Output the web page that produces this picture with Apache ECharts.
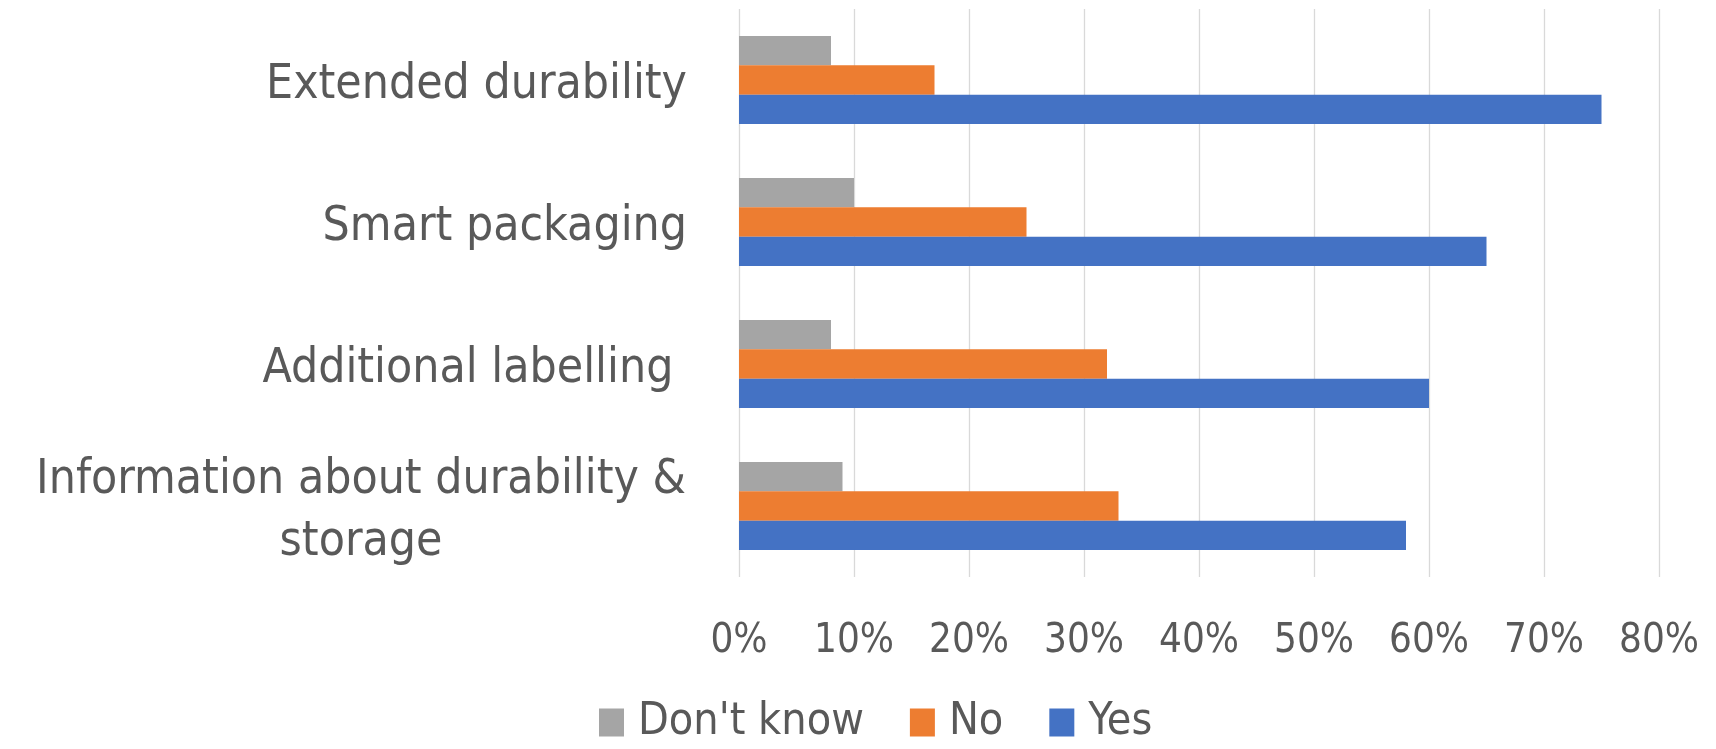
<!DOCTYPE html>
<html><head><meta charset="utf-8">
<script src="https://cdn.jsdelivr.net/npm/echarts@6/dist/echarts.min.js"></script>
<style>html,body{margin:0;padding:0;background:#fff}#c{width:1716px;height:749px}</style>
</head><body><div id="c"></div>
<script>
// ---- data ----
const categories = ['Extended durability', 'Smart packaging', 'Additional labelling ', 'Information about durability &\nstorage'];
const seriesNames = ["Don't know", 'No', 'Yes'];
const dontKnow = [8, 10, 8, 9];
const no = [17, 25, 32, 33];
const yes = [75, 65, 60, 58];
const xMin = 0, xMax = 80, xStep = 10;

// ---- styling ----
const FAM = '"Liberation Sans Narrow","DejaVu Sans Condensed","Liberation Sans",sans-serif';
const ctx = document.createElement('canvas').getContext('2d');
function fitSize(text, target) {
  ctx.font = '100px ' + FAM;
  return Math.round(target / ctx.measureText(text).width * 1000) / 10;
}
const fs = fitSize('Extended durability', 421);
const fsX = fitSize('80%', 80);
const fsL = fitSize("Don't know", 226);
ctx.font = fs + 'px ' + FAM;
const infoW = Math.ceil(ctx.measureText(categories[3].split('\n')[0]).width) + 2;
const TXT = '#595959';
const colors = ['#A5A5A5', '#ED7D31', '#4472C4'];

const chart = echarts.init(document.getElementById('c'), null, {renderer: 'canvas'});
const data = [dontKnow, no, yes];
chart.setOption({
  animation: false,
  textStyle: {fontFamily: FAM},
  grid: {left: 739, right: 57, top: 9, bottom: 172, containLabel: false},
  legend: {
    data: seriesNames, left: 599, top: 700, padding: 0, icon: 'rect', itemWidth: 25, itemHeight: 28, itemGap: 46,
    textStyle: {fontFamily: FAM, fontSize: fsL, color: TXT, lineHeight: 30, padding: [0, 0, 0, 9]}
  },
  xAxis: {
    type: 'value', min: xMin, max: xMax, interval: xStep,
    axisLine: {show: false}, axisTick: {show: false},
    splitLine: {show: true, lineStyle: {color: '#d9d9d9', width: 1.3}},
    axisLabel: {formatter: '{value}%', fontFamily: FAM, fontSize: fsX, color: TXT, lineHeight: 40, margin: 45}
  },
  yAxis: {
    type: 'category', inverse: true, data: categories,
    axisLine: {show: false}, axisTick: {show: false}, splitLine: {show: false},
    axisLabel: {
      fontFamily: FAM, fontSize: fs, color: TXT, margin: 52, align: 'right', lineHeight: 62,
      padding: [11, 0, 0, 0],
      formatter: v => v.indexOf('\n') >= 0 ? v.split('\n').map(l => '{c|' + l + '}').join('\n') : v,
      rich: {c: {fontFamily: FAM, fontSize: fs, color: TXT, width: infoW, align: 'center', lineHeight: 62}}
    }
  },
  series: seriesNames.map((n, i) => ({
    name: n, type: 'bar', data: data[i], barGap: '0%', barCategoryGap: '38%',
    itemStyle: {color: colors[i]}
  }))
});
</script></body></html>
